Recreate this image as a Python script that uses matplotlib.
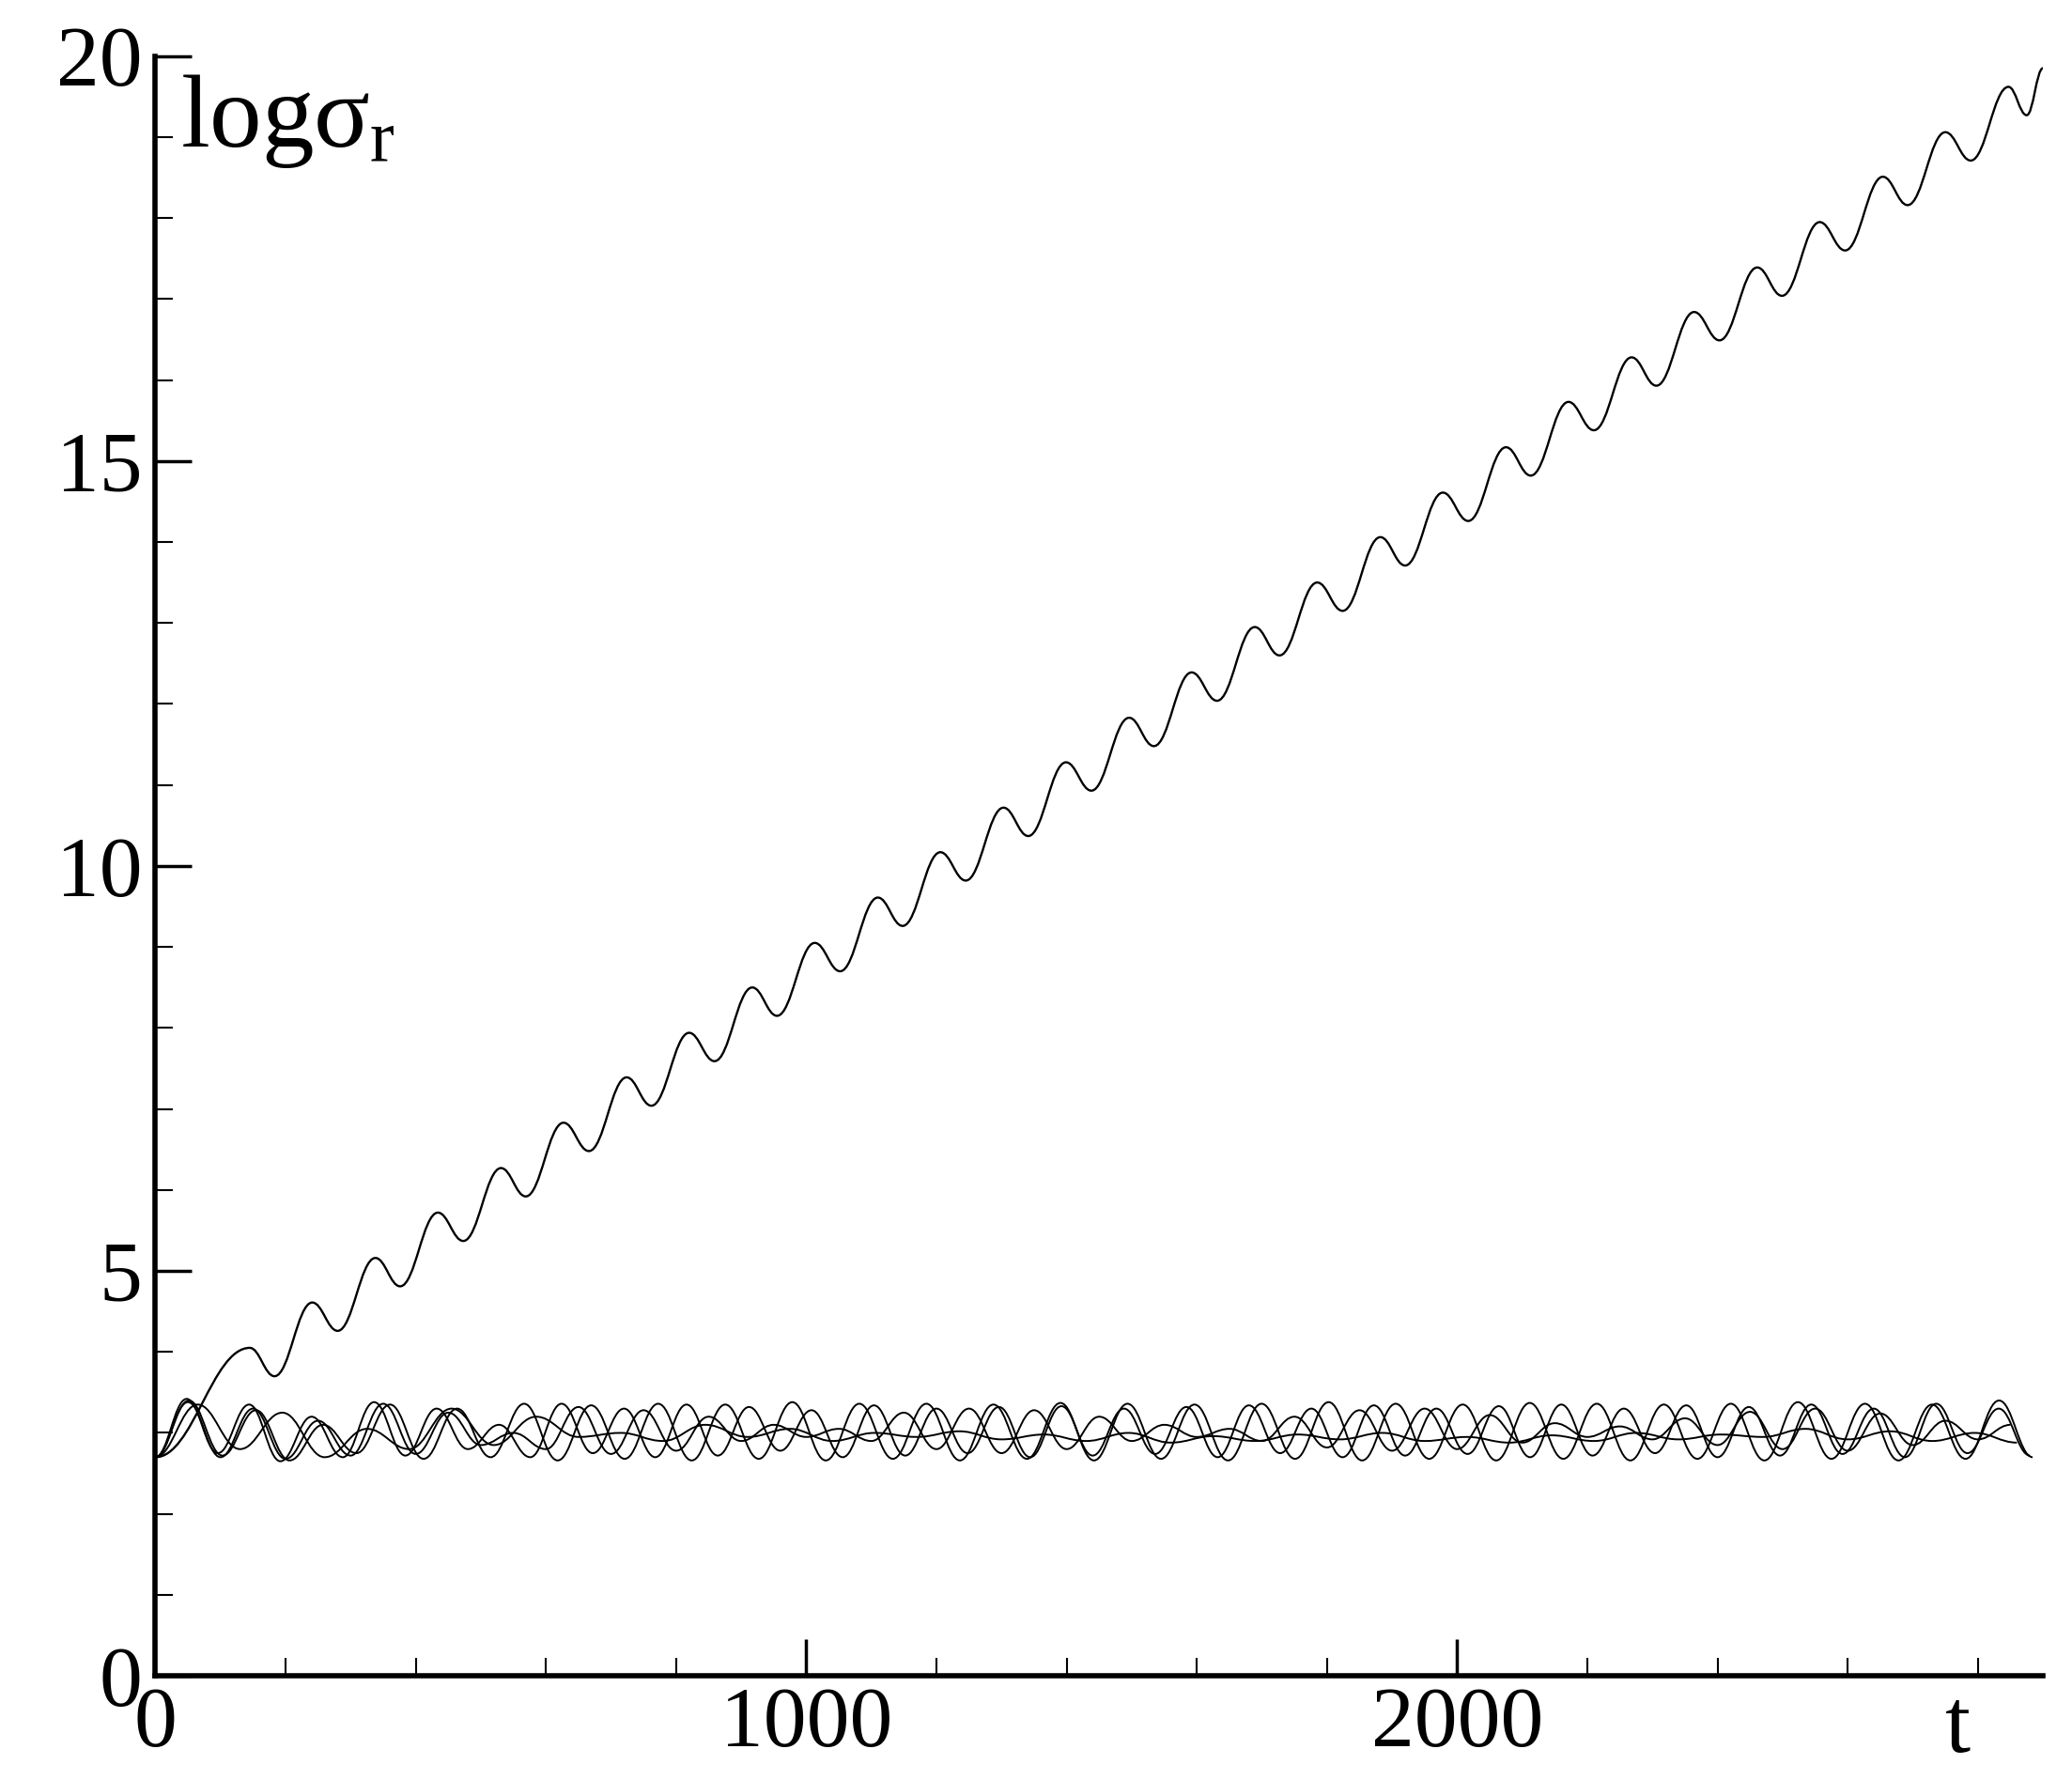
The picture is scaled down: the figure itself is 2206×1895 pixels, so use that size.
import numpy as np
import matplotlib
matplotlib.use("Agg")
import matplotlib.pyplot as plt
from matplotlib.ticker import MultipleLocator
from matplotlib.path import Path
from matplotlib.patches import PathPatch

# growing mode: start, alternating peaks/troughs, end
grow_t = [0, 145, 183, 241, 280, 338, 376, 434, 473, 531, 569, 627, 666, 724, 762, 820, 859, 917, 955,
          1013, 1052, 1110, 1148, 1206, 1245, 1303, 1341, 1399, 1438, 1496, 1534, 1592, 1631, 1689, 1727,
          1785, 1824, 1882, 1920, 1978, 2017, 2075, 2113, 2171, 2210, 2268, 2306, 2364, 2403, 2461, 2499,
          2557, 2596, 2654, 2692, 2750, 2789, 2847, 2875, 2900]
grow_v = [2.7, 4.05, 3.70, 4.61, 4.26, 5.16, 4.81, 5.72, 5.37, 6.27, 5.92, 6.83, 6.48, 7.39, 7.04,
          7.94, 7.59, 8.50, 8.15, 9.05, 8.70, 9.61, 9.26, 10.17, 9.82, 10.72, 10.37, 11.28, 10.93,
          11.83, 11.48, 12.39, 12.04, 12.95, 12.60, 13.50, 13.15, 14.06, 13.71, 14.61, 14.26, 15.17,
          14.82, 15.73, 15.38, 16.28, 15.93, 16.84, 16.49, 17.39, 17.04, 17.95, 17.60, 18.51, 18.16,
          19.06, 18.71, 19.62, 19.27, 19.85]

# neutral modes: alternating extrema values
neut1_v = [2.7, 3.42, 2.75, 3.35, 2.65, 3.2, 2.7, 3.38, 2.72, 3.3, 2.8, 3.1, 2.7, 3.36, 2.75, 3.3,
           2.7, 3.35, 2.72, 3.32, 2.78, 3.28, 2.7, 3.34, 2.72, 3.3, 2.75, 3.32, 2.7, 3.33, 2.72,
           3.3, 2.74, 3.32, 2.7, 3.34, 2.75, 3.3, 2.7, 3.34, 2.72, 3.3, 2.74, 3.33, 2.7, 3.35,
           2.72, 3.3, 2.75, 3.34, 2.7, 3.32, 2.72, 3.35, 2.74, 3.3, 2.7, 3.36, 2.75, 3.3, 2.72]
neut2_v = [2.7, 3.38, 2.7, 3.3, 2.68, 3.15, 2.72, 3.36, 2.74, 3.25, 2.85, 3.0, 2.8, 3.32, 2.74,
           3.28, 2.78, 3.2, 2.9, 3.1, 2.95, 3.05, 2.9, 3.25, 2.8, 3.3, 2.75, 3.28, 2.8, 3.2, 2.9,
           3.1, 2.95, 3.05, 2.9, 3.2, 2.82, 3.28, 2.78, 3.3, 2.8, 3.22, 2.88, 3.12, 2.95, 3.08,
           2.92, 3.18, 2.85, 3.26, 2.8, 3.3, 2.78, 3.24, 2.85, 3.15, 2.92, 3.1]
neut3_v = [2.7, 3.4, 2.72, 3.28, 2.66, 3.1, 2.75, 3.35, 2.68, 3.3, 2.7, 3.36, 2.66, 3.34, 2.68,
           3.36, 2.66, 3.35, 2.68, 3.38, 2.66, 3.36, 2.68, 3.36, 2.66, 3.35, 2.68, 3.37, 2.66,
           3.36, 2.68, 3.35, 2.66, 3.36, 2.68, 3.38, 2.66, 3.36, 2.68, 3.35, 2.66, 3.37, 2.68,
           3.36, 2.66, 3.35, 2.68, 3.36, 2.66, 3.38, 2.68, 3.36, 2.66, 3.35, 2.68, 3.4, 2.7]
neut4_v = [2.7, 3.35, 2.8, 3.25, 2.7, 3.05, 2.8, 3.3, 2.85, 3.2, 2.95, 3.0, 2.9, 3.1, 2.95, 3.05,
           2.9, 3.0, 2.95, 3.02, 2.92, 2.98, 2.9, 3.0, 2.88, 2.96, 2.9, 2.98, 2.92, 3.0, 2.9,
           2.95, 2.88, 2.97, 2.9, 3.0, 2.92, 2.98, 2.95, 3.05, 2.92, 3.02, 2.9, 3.0, 2.88]

plt.rcParams['font.family'] = ['Liberation Serif', 'DejaVu Serif']
plt.rcParams['mathtext.fontset'] = 'custom'
plt.rcParams['mathtext.rm'] = 'Liberation Serif'
plt.rcParams['mathtext.it'] = 'Liberation Serif'

fig = plt.figure(figsize=(22.06, 18.95), dpi=100)
ax = fig.add_axes([0.075, 0.0585, 0.911, 0.91])

def bezier_curve(t, v, lw):
    verts = [(t[0], v[0])]
    codes = [Path.MOVETO]
    for i in range(1, len(t)):
        dt = (t[i] - t[i - 1]) * 0.4
        verts += [(t[i - 1] + dt, v[i - 1]), (t[i] - dt, v[i]), (t[i], v[i])]
        codes += [Path.CURVE4] * 3
    ax.add_patch(PathPatch(Path(verts, codes), fill=False, edgecolor='black', lw=lw))

bezier_curve(grow_t, grow_v, 1.7)
for vals, hp in [(neut1_v, 48.0), (neut2_v, 50.0), (neut3_v, 51.5), (neut4_v, 65.0)]:
    tt = np.arange(len(vals)) * hp
    vv = np.asarray(vals)
    m = tt <= 2900
    bezier_curve(list(tt[m]), list(vv[m]), 1.4)

ax.set_xlim(0, 2900)
ax.set_ylim(0, 20)
for s in ['top', 'right']:
    ax.spines[s].set_visible(False)
for s in ['left', 'bottom']:
    ax.spines[s].set_linewidth(4)
ax.xaxis.set_major_locator(MultipleLocator(1000))
ax.xaxis.set_minor_locator(MultipleLocator(200))
ax.yaxis.set_major_locator(MultipleLocator(5))
ax.yaxis.set_minor_locator(MultipleLocator(1))
ax.tick_params(which='major', direction='in', length=28, width=2.5, labelsize=66)
ax.tick_params(which='minor', direction='in', length=14, width=1.5)
ax.tick_params(axis='x', pad=8)
ax.tick_params(axis='y', pad=10)
ax.text(0.013, 0.99, r'log$\sigma_{\rm r}$', transform=ax.transAxes, fontsize=80,
        va='top', ha='left')
ax.text(0.955, -0.047, 't', transform=ax.transAxes, fontsize=70, va='baseline', ha='center')
fig.savefig('out.png', dpi=100)
